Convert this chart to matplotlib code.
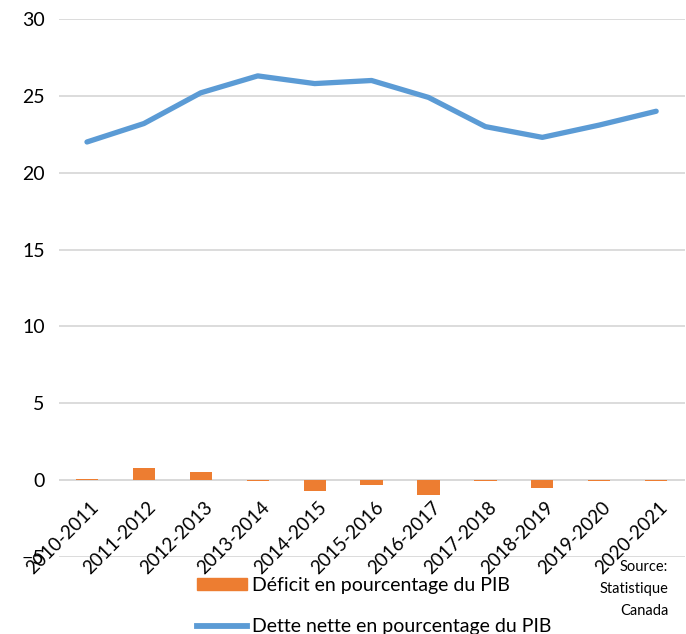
import numpy as np
import matplotlib.pyplot as plt
from matplotlib.lines import Line2D
from matplotlib.patches import Patch

plt.rcParams['font.family'] = ['Lato', 'DejaVu Sans']

# Années budgétaires
annees = ['2010-2011', '2011-2012', '2012-2013', '2013-2014', '2014-2015',
          '2015-2016', '2016-2017', '2017-2018', '2018-2019', '2019-2020',
          '2020-2021']
# Déficit (% du PIB)
deficit = [0.1, 0.8, 0.5, -0.05, -0.7, -0.3, -1.0, -0.05, -0.5, -0.05, -0.05]
# Dette nette (% du PIB)
dette = [22.0, 23.2, 25.2, 26.3, 25.8, 26.0, 24.9, 23.0, 22.3, 23.1, 24.0]

fig = plt.figure(figsize=(6.86, 6.34), dpi=100)
ax = fig.add_axes([0.0853, 0.1215, 0.9127, 0.8485])

x = np.arange(len(annees))
ax.bar(x, deficit, width=0.39, color='#ED7D31', zorder=3)
ax.plot(x, dette, color='#5B9BD5', linewidth=3.8, solid_capstyle='round', zorder=4)

ax.set_xlim(-0.5, len(annees) - 0.5)
ax.set_ylim(-5, 30)
ax.set_yticks(np.arange(-5, 31, 5))
ax.yaxis.grid(True, color='#d9d9d9', linewidth=1.3)
ax.set_axisbelow(True)
for s in ax.spines.values():
    s.set_visible(False)
ax.tick_params(axis='y', length=0, labelsize=14, pad=10)

# Axe des catégories au niveau de zéro
ax.axhline(0, color='#d9d9d9', linewidth=1.3, zorder=1)
ax.set_xticks([])
for xi, lab in zip(x, annees):
    ax.text(xi + 0.05, -1.2, lab, rotation=45, ha='right', va='top',
            fontsize=13.5, rotation_mode='anchor')

handles = [Patch(color='#ED7D31'),
           Line2D([0], [0], color='#5B9BD5', linewidth=4.2)]
fig.legend(handles, ['Déficit en pourcentage du PIB',
                     'Dette nette en pourcentage du PIB'],
           loc='upper left', bbox_to_anchor=(0.287, 0.09), frameon=False,
           fontsize=14, handlelength=2.6, handleheight=0.6, handletextpad=0.25,
           labelspacing=1.25, borderaxespad=0, borderpad=0)

fig.text(0.974, 0.117, 'Source:\nStatistique\nCanada', ha='right', va='top',
         fontsize=10.5, linespacing=1.75)

fig.savefig('out.png', dpi=100)
